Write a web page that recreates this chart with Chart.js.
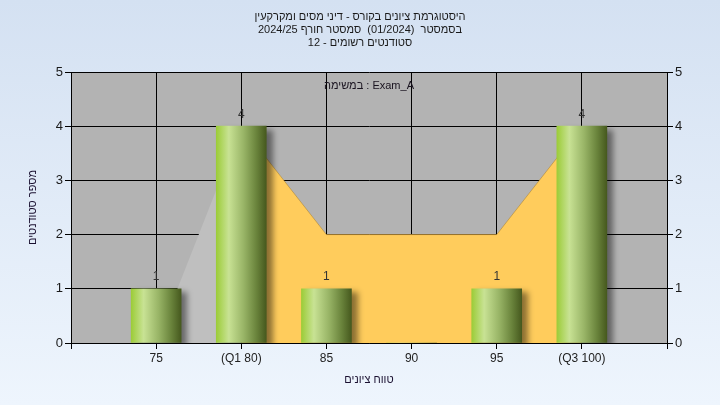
<!DOCTYPE html>
<html>
<head>
<meta charset="utf-8">
<script src="https://cdn.jsdelivr.net/npm/chart.js@4.4.1/dist/chart.umd.min.js"></script>
<style>
html,body{margin:0;padding:0;}
body{width:720px;height:405px;overflow:hidden;background:linear-gradient(#d4e1f2,#eef5fd);}
canvas{display:block;}
</style>
</head>
<body>
<canvas id="chart" width="720" height="405"></canvas>
<script>
// chart data
// each title line is a list of pieces drawn left to right
const titleLines = [
	['היסטוגרמת ציונים בקורס - דיני מסים ומקרקעין'],
	['בסמסטר  (01/2024)  סמסטר חורף 2024/25'],
	['12 - ', 'סטודנטים רשומים']
];
const examLabel = ['במשימה', ' : Exam_A'];
const xTitle = 'טווח ציונים';
const yTitle = 'מספר סטודנטים';

const grades = [75, 80, 85, 90, 95, 100];
const counts = [1, 4, 1, 0, 1, 4];

const xTickValues = [70, 75, 80, 85, 90, 95, 100, 105];
const xTickLabels = ['', '75', '(Q1 80)', '85', '90', '95', '(Q3 100)', ''];

// shaded areas behind the bars
const grayX = [75, 80];
const grayY = [0, 4];
const bandX = [80, 85, 90, 95, 100];
const bandY = [4, 2, 2, 2, 4];

const FONT = "'Liberation Sans', 'DejaVu Sans', sans-serif";

function pts(xs, ys){ return xs.map((x, i) => ({x: x, y: ys[i]})); }

// draw pieces side by side so bidi reordering can't swap them
function drawPieces(ctx, pieces, cx, cy){
	const widths = pieces.map(p => ctx.measureText(p).width);
	let x = cx - widths.reduce((a, b) => a + b, 0) / 2;
	ctx.textAlign = 'left';
	pieces.forEach((p, i) => { ctx.fillText(p, x, cy); x += widths[i]; });
}

// cylinder-like gradient for each bar
function barFill(ctx){
	const chart = ctx.chart;
	if(!chart.chartArea || ctx.raw == null) return '#9dcc3a';
	const cx = chart.scales.x.getPixelForValue(ctx.raw.x);
	const g = chart.ctx.createLinearGradient(cx - 25, 0, cx + 25, 0);
	g.addColorStop(0, '#9ccc38');
	g.addColorStop(0.25, '#c8e294');
	g.addColorStop(0.55, '#98b466');
	g.addColorStop(0.8, '#6a843c');
	g.addColorStop(1, '#46591e');
	return g;
}

const decor = {
	id: 'decor',
	beforeDraw(chart){
		const {ctx, chartArea: a} = chart;
		ctx.save();
		ctx.fillStyle = '#b3b3b3';
		ctx.fillRect(a.left, a.top, a.right - a.left, a.bottom - a.top);
		ctx.restore();
	},
	beforeDatasetsDraw(chart){
		const {ctx, chartArea: a} = chart;
		ctx.save();
		ctx.font = '11px ' + FONT;
		ctx.fillStyle = '#1a1420';
		ctx.textBaseline = 'middle';
		drawPieces(ctx, examLabel, (a.left + a.right) / 2, a.top + 14);
		ctx.restore();
	},
	beforeDatasetDraw(chart, args){
		if(args.meta.type !== 'bar') return;
		const ctx = chart.ctx;
		ctx.save();
		ctx.shadowColor = 'rgba(0,0,0,0.45)';
		ctx.shadowOffsetX = 6;
		ctx.shadowOffsetY = 4;
		ctx.shadowBlur = 6;
	},
	afterDatasetDraw(chart, args){
		if(args.meta.type !== 'bar') return;
		chart.ctx.restore();
	},
	afterDatasetsDraw(chart){
		const ctx = chart.ctx;
		const meta = chart.getDatasetMeta(0);
		ctx.save();
		ctx.font = '12px ' + FONT;
		ctx.fillStyle = '#333';
		ctx.textAlign = 'center';
		ctx.textBaseline = 'middle';
		meta.data.forEach((el, i) => {
			if(counts[i] > 0) ctx.fillText(String(counts[i]), el.x, el.y - 12);
		});
		ctx.restore();
	},
	afterDraw(chart){
		const ctx = chart.ctx;
		ctx.save();
		ctx.font = '11px ' + FONT;
		ctx.fillStyle = '#1a1a1a';
		ctx.textBaseline = 'middle';
		titleLines.forEach((t, i) => drawPieces(ctx, t, 360, 17 + i * 13));
		ctx.restore();
	}
};

const tickFont = {family: FONT, size: 13};

new Chart(document.getElementById('chart'), {
	type: 'bar',
	data: {
		datasets: [
			{
				type: 'bar',
				data: pts(grades, counts),
				backgroundColor: barFill,
				borderWidth: 0,
				barThickness: 50,
				order: 0
			},
			{
				type: 'line',
				data: pts(bandX, bandY),
				fill: 'origin',
				backgroundColor: '#ffcc5c',
				borderColor: 'rgba(170,130,50,0.55)',
				borderWidth: 1,
				pointRadius: 0,
				tension: 0,
				order: 1
			},
			{
				type: 'line',
				data: pts(grayX, grayY),
				fill: 'origin',
				backgroundColor: '#bfbfbf',
				borderWidth: 0,
				pointRadius: 0,
				tension: 0,
				order: 2
			}
		]
	},
	options: {
		responsive: false,
		animation: false,
		devicePixelRatio: 1,
		layout: {padding: {top: 72, left: 0, right: 0, bottom: 0}},
		plugins: {legend: {display: false}, tooltip: {enabled: false}},
		scales: {
			x: {
				type: 'linear',
				min: 70, max: 105,
				offset: false,
				afterBuildTicks: s => { s.ticks = xTickValues.map(v => ({value: v})); },
				afterFit: s => { s.height = 62; },
				grid: {color: '#000', lineWidth: 1, tickLength: 6, offset: false},
				border: {color: '#000'},
				ticks: {
					font: {family: FONT, size: 12},
					color: '#222',
					padding: 2,
					maxRotation: 0,
					autoSkip: false,
					callback: v => xTickLabels[xTickValues.indexOf(v)]
				},
				title: {display: true, text: xTitle, font: {family: FONT, size: 11}, color: '#1a1030', padding: {top: 0, bottom: 18}}
			},
			y: {
				position: 'left',
				min: 0, max: 5,
				afterFit: s => { s.width = 71; },
				grid: {color: '#000', lineWidth: 1, tickLength: 6},
				border: {color: '#000'},
				ticks: {stepSize: 1, font: tickFont, color: '#1a1a1a', padding: 2},
				title: {display: true, text: yTitle, font: {family: FONT, size: 11}, color: '#1a1030', padding: {top: 26, bottom: 0}}
			},
			y2: {
				position: 'right',
				min: 0, max: 5,
				afterFit: s => { s.width = 53; },
				grid: {drawOnChartArea: false, color: '#000', tickLength: 6},
				border: {color: '#000'},
				ticks: {stepSize: 1, font: tickFont, color: '#1a1a1a', padding: 2}
			}
		}
	},
	plugins: [decor]
});
</script>
</body>
</html>
